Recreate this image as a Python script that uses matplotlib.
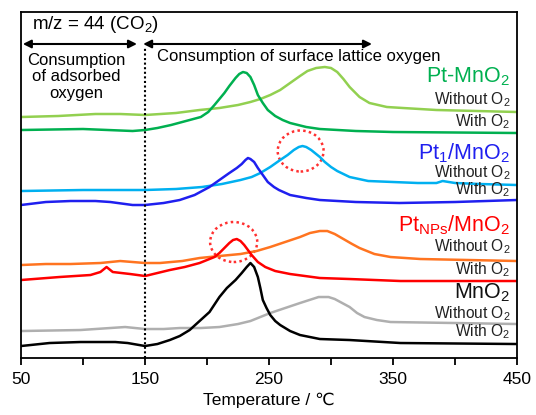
import matplotlib
matplotlib.use("Agg")
import matplotlib.pyplot as plt
from matplotlib.patches import Ellipse

plt.rcParams['font.family'] = ['Liberation Sans', 'DejaVu Sans']
plt.rcParams['mathtext.fontset'] = 'custom'
plt.rcParams['mathtext.rm'] = 'Liberation Sans'
plt.rcParams['mathtext.it'] = 'Liberation Sans'

# ---- data (temperature in degC, intensity in a.u. with offsets) ----
ptmn_wo_T = [50, 80, 110, 130, 150, 175, 194, 210, 225, 235, 243, 251, 259, 267, 275, 281, 288, 295, 300, 305, 310, 315, 323, 331, 345, 358, 385, 450]
ptmn_wo_V = [241, 242, 244, 244, 243, 245, 248, 250, 253, 256, 259, 263, 268, 275, 282, 287, 290, 291, 290, 286, 279, 271, 261, 255, 251, 250, 248, 246]

ptmn_w_T = [50, 100, 140, 150, 160, 171, 183, 195, 201, 206, 210, 214, 218, 223, 226, 229, 232, 235, 238, 241, 245, 249, 255, 261, 267, 280, 291, 320, 350, 450]
ptmn_w_V = [228, 229, 227, 228, 230, 233, 237, 241, 246, 253, 259, 265, 272, 280, 284, 286, 285, 281, 273, 263, 255, 248, 242, 238, 235, 231, 229, 227, 226, 225]

pt1_wo_T = [50, 100, 150, 175, 196, 212, 227, 236, 243, 251, 259, 265, 270, 274, 277, 280, 284, 288, 291, 295, 300, 305, 315, 330, 350, 370, 385, 390, 395, 400, 420, 450]
pt1_wo_V = [167, 168, 168, 169, 171, 174, 178, 181, 185, 191, 198, 203, 208, 211, 212, 211, 208, 204, 201, 196, 191, 187, 181, 177, 176, 175, 175, 177, 176, 175, 174, 173]

pt1_w_T = [50, 70, 90, 110, 122, 140, 150, 165, 178, 190, 202, 210, 218, 224, 228, 231, 233, 235, 238, 241, 245, 249, 254, 258, 267, 280, 291, 320, 355, 400, 450]
pt1_w_V = [153, 156, 157, 157, 156, 153, 153, 155, 158, 163, 171, 178, 185, 190, 194, 198, 200, 199, 196, 190, 183, 176, 171, 168, 163, 160, 158, 156, 155, 156, 158]

ptnp_wo_T = [50, 70, 90, 114, 130, 140, 150, 162, 180, 194, 210, 227, 240, 251, 263, 275, 283, 291, 297, 303, 310, 317, 323, 335, 348, 372, 450]
ptnp_wo_V = [93, 94, 94, 95, 97, 96, 95, 95, 97, 100, 102, 104, 107, 111, 116, 121, 125, 127, 127, 124, 119, 114, 110, 104, 101, 99, 97]

ptnp_w_T = [50, 81, 106, 114, 119, 124, 138, 150, 160, 170, 182, 194, 200, 206, 210, 214, 218, 221, 224, 227, 230, 233, 236, 241, 247, 255, 267, 291, 315, 356, 450]
ptnp_w_V = [78, 81, 83, 86, 91, 86, 84, 82, 85, 88, 91, 95, 98, 101, 105, 110, 115, 118, 119, 117, 113, 108, 103, 96, 91, 87, 84, 80, 79, 77, 77]

mn_wo_T = [50, 98, 122, 134, 150, 165, 178, 195, 210, 225, 235, 243, 251, 263, 275, 285, 290, 294, 298, 303, 309, 315, 321, 327, 337, 348, 400, 450]
mn_wo_V = [27, 28, 30, 31, 29, 29, 30, 30, 31, 34, 37, 41, 45, 50, 55, 59, 61, 61, 61, 59, 55, 51, 45, 41, 38, 36, 35, 34]

mn_w_T = [50, 73, 98, 126, 136, 150, 160, 170, 178, 186, 194, 202, 210, 216, 223, 228, 232, 235, 238, 241, 243, 245, 248, 251, 255, 259, 267, 275, 291, 315, 356, 450]
mn_w_V = [12, 15, 16, 16, 15, 12, 14, 18, 22, 28, 37, 46, 61, 70, 78, 85, 91, 95, 91, 81, 70, 58, 50, 43, 37, 33, 27, 23, 19, 18, 15, 14]

xticks = [50, 150, 250, 350, 450]
minor_ticks = [100, 200, 300, 400]

fig = plt.figure(figsize=(5.36, 4.15), dpi=100)
ax = fig.add_axes([0.0392, 0.1373, 0.9254, 0.8338])

lw = 1.8
kw = dict(lw=lw, solid_joinstyle='round', solid_capstyle='round')
ax.plot(ptmn_wo_T, ptmn_wo_V, color='#92D050', **kw)
ax.plot(ptmn_w_T, ptmn_w_V, color='#00B050', **kw)
ax.plot(pt1_wo_T, pt1_wo_V, color='#00B0F0', **kw)
ax.plot(pt1_w_T, pt1_w_V, color='#1F1FEF', **kw)
ax.plot(ptnp_wo_T, ptnp_wo_V, color='#FF7420', **kw)
ax.plot(ptnp_w_T, ptnp_w_V, color='#FF0000', **kw)
ax.plot(mn_wo_T, mn_wo_V, color='#AFAFAF', **kw)
ax.plot(mn_w_T, mn_w_V, color='#000000', **kw)

ax.set_xlim(50, 450)
ax.set_ylim(0, 346)
ax.set_yticks([])
ax.set_xticks(xticks)
ax.set_xticks(minor_ticks, minor=True)
ax.tick_params(axis='x', which='both', direction='out', length=5, width=1.3, labelsize=12.5, pad=5)
for s in ax.spines.values():
    s.set_linewidth(1.3)
ax.set_xlabel('Temperature / ℃', fontsize=12.5, labelpad=4,
              family=['Liberation Sans', 'DejaVu Sans'])

# dotted divider and arrows
ax.plot([150, 150], [0, 311], color='black', lw=1.5, ls=(0, (1, 1.2)))
ax.annotate('', xy=(51.5, 314), xytext=(143.5, 314),
            arrowprops=dict(arrowstyle='<|-|>', color='black', lw=1.5, mutation_scale=12, shrinkA=0, shrinkB=0))
ax.annotate('', xy=(148.5, 314), xytext=(333, 314),
            arrowprops=dict(arrowstyle='<|-|>', color='black', lw=1.5, mutation_scale=12, shrinkA=0, shrinkB=0))

ax.text(59, 333, 'm/z = 44 (CO$_2$)', fontsize=13.5, va='center', ha='left')
ax.text(94.5, 281, 'Consumption\nof adsorbed\noxygen', fontsize=12, ha='center', va='center', linespacing=1.15)
ax.text(159.5, 301, 'Consumption of surface lattice oxygen', fontsize=12, ha='left', va='center')

# sample labels
xr = 444.5
big = 15.5
small = 11.2
ax.text(xr, 281, 'Pt-MnO$_2$', color='#00B050', fontsize=big, ha='right', va='center')
ax.text(xr, 258, 'Without O$_2$', color='#222222', fontsize=small, ha='right', va='center')
ax.text(xr, 236, 'With O$_2$', color='#222222', fontsize=small, ha='right', va='center')

ax.text(xr, 205, 'Pt$_1$/MnO$_2$', color='#1F1FEF', fontsize=big, ha='right', va='center')
ax.text(xr, 185, 'Without O$_2$', color='#222222', fontsize=small, ha='right', va='center')
ax.text(xr, 168, 'With O$_2$', color='#222222', fontsize=small, ha='right', va='center')

ax.text(xr, 133, 'Pt$_{NPs}$/MnO$_2$', color='#FF0000', fontsize=big, ha='right', va='center')
ax.text(xr, 111, 'Without O$_2$', color='#222222', fontsize=small, ha='right', va='center')
ax.text(xr, 88, 'With O$_2$', color='#222222', fontsize=small, ha='right', va='center')

ax.text(xr, 65, 'MnO$_2$', color='#111111', fontsize=big, ha='right', va='center')
ax.text(xr, 44, 'Without O$_2$', color='#222222', fontsize=small, ha='right', va='center')
ax.text(xr, 26, 'With O$_2$', color='#222222', fontsize=small, ha='right', va='center')

# highlighted peaks
ax.add_patch(Ellipse((275.5, 207), 37, 41, fill=False, ec='#FF3030', lw=1.8, ls=(0, (1, 1.3))))
ax.add_patch(Ellipse((221.5, 116), 38, 40, fill=False, ec='#FF3030', lw=1.8, ls=(0, (1, 1.3))))

fig.savefig('out.png', dpi=100)
